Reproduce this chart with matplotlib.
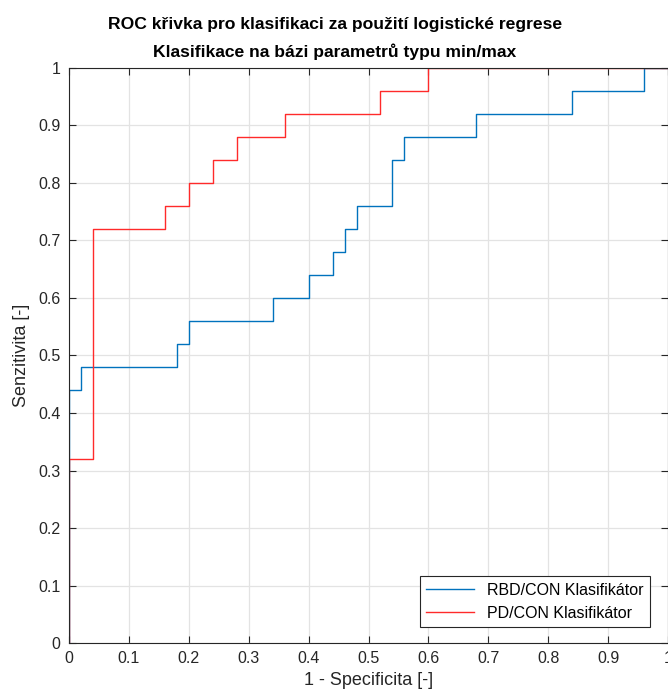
import numpy as np
import matplotlib.pyplot as plt

plt.rcParams['font.family'] = ['Liberation Sans', 'DejaVu Sans']

# ROC body (x = 1 - specificita, y = senzitivita), stair points
rbd_x = [0, 0, 0.02, 0.02, 0.18, 0.18, 0.20, 0.20, 0.34, 0.34, 0.40, 0.40, 0.44, 0.44,
         0.46, 0.46, 0.48, 0.48, 0.54, 0.54, 0.56, 0.56, 0.68, 0.68, 0.84, 0.84,
         0.96, 0.96, 1.0]
rbd_y = [0, 0.44, 0.44, 0.48, 0.48, 0.52, 0.52, 0.56, 0.56, 0.60, 0.60, 0.64, 0.64, 0.68,
         0.68, 0.72, 0.72, 0.76, 0.76, 0.84, 0.84, 0.88, 0.88, 0.92, 0.92, 0.96,
         0.96, 1.0, 1.0]

pd_x = [0, 0, 0.04, 0.04, 0.16, 0.16, 0.20, 0.20, 0.24, 0.24, 0.28, 0.28, 0.36, 0.36,
        0.52, 0.52, 0.60, 0.60, 1.0]
pd_y = [0, 0.32, 0.32, 0.72, 0.72, 0.76, 0.76, 0.80, 0.80, 0.84, 0.84, 0.88, 0.88, 0.92,
        0.92, 0.96, 0.96, 1.0, 1.0]

labels = ['RBD/CON Klasifikátor', 'PD/CON Klasifikátor']
title = 'ROC křivka pro klasifikaci za použití logistické regrese\nKlasifikace na bázi parametrů typu min/max'

fig = plt.figure(figsize=(6.68, 7.0), dpi=100)
ax = fig.add_axes([0.1033, 0.0814, 0.8967, 0.8215])

ax.plot(rbd_x, rbd_y, color='#0072BD', lw=1.0, label=labels[0])
ax.plot(pd_x, pd_y, color='#FF2A2A', lw=1.0, label=labels[1])

ax.set_xlim(0, 1)
ax.set_ylim(0, 1)
ticks = np.round(np.arange(0, 1.01, 0.1), 1)
ticklabels = ['0'] + ['%g' % t for t in ticks[1:-1]] + ['1']
ax.set_xticks(ticks)
ax.set_xticklabels(ticklabels)
ax.set_yticks(ticks)
ax.set_yticklabels(ticklabels)
ax.grid(True, color='#E3E3E3', lw=0.9)
ax.set_axisbelow(True)
ax.tick_params(direction='in', length=5, width=0.8, top=True, right=True,
               labelsize=11.5, colors='#262626', pad=6)
for s in ax.spines.values():
    s.set_color('#262626')
    s.set_linewidth(0.8)

ax.set_xlabel('1 - Specificita [-]', fontsize=13, color='#262626', labelpad=4)
ax.set_ylabel('Senzitivita [-]', fontsize=13, color='#262626', labelpad=6)
# title sits left of the axes centre in the reference (cropped MATLAB figure)
ax.text(0.444, 1.013, title, transform=ax.transAxes, ha='center', va='bottom',
        fontsize=12.6, fontweight='bold', linespacing=1.85)

leg = ax.legend(loc='lower right', fontsize=11.5, fancybox=False, framealpha=1,
                edgecolor='#262626', borderpad=0.4, handlelength=3.0,
                borderaxespad=0, bbox_to_anchor=(0.97, 0.028))
leg.get_frame().set_linewidth(0.8)

fig.savefig('out.png', dpi=100)
